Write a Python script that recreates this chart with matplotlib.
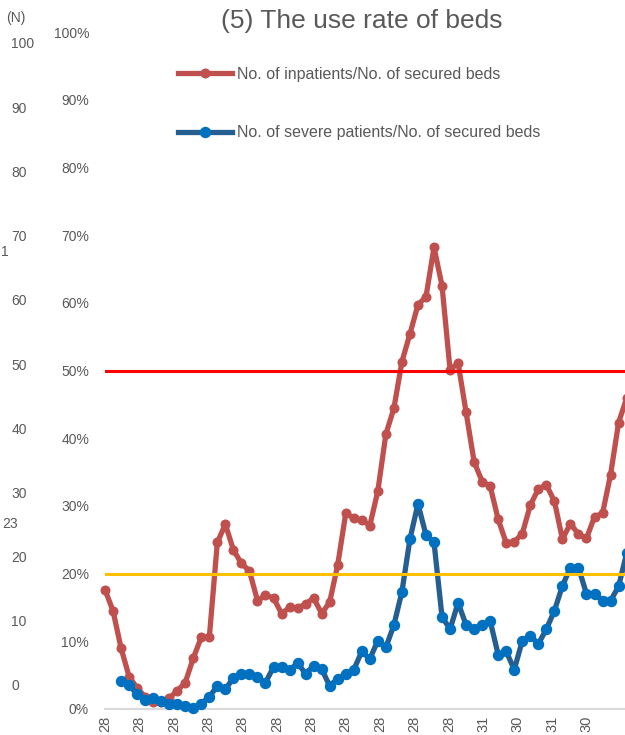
import numpy as np
import matplotlib
matplotlib.use("Agg")
import matplotlib.pyplot as plt
from matplotlib.ticker import PercentFormatter
from matplotlib.lines import Line2D

plt.rcParams['font.family'] = ['Liberation Sans', 'DejaVu Sans']

# ---- data (percent) ----
inpatients = [17.6, 14.5, 9.0, 4.8, 3.1, 1.8, 1.1, 1.1,
              1.6, 2.7, 3.9, 7.5, 10.6, 10.6, 24.6, 27.3,
              23.5, 21.5, 20.4, 16.0, 16.8, 16.4, 14.1, 15.0,
              14.9, 15.5, 16.4, 14.1, 15.8, 21.3, 28.9, 28.2,
              27.9, 27.1, 32.2, 40.6, 44.4, 51.3, 55.4, 59.7,
              60.9, 68.2, 62.5, 50.1, 51.1, 43.8, 36.5, 33.6,
              32.9, 28.0, 24.5, 24.7, 25.9, 30.1, 32.5, 33.1,
              30.7, 25.1, 27.4, 25.8, 25.2, 28.4, 28.9, 34.6,
              42.3, 45.9]
severe = [np.nan, np.nan, 4.2, 3.5, 2.2, 1.4, 1.6, 1.2, 0.7, 0.8,
          0.5, 0.1, 0.8, 1.8, 3.4, 2.9, 4.6, 5.2,
          5.2, 4.7, 3.9, 6.2, 6.2, 5.7, 6.8, 5.2,
          6.4, 5.9, 3.4, 4.5, 5.2, 5.8, 8.5, 7.4,
          10.1, 9.1, 12.4, 17.3, 25.1, 30.3, 25.7, 24.6,
          13.6, 11.8, 15.7, 12.4, 11.8, 12.4, 13.0, 8.0,
          8.5, 5.8, 10.1, 10.8, 9.6, 11.8, 14.5, 18.2,
          20.9, 20.9, 17.0, 17.0, 16.0, 16.0, 18.1, 23.0]
x_labels = ["28"] * 11 + ["31", "30", "31", "30"]
threshold_high = 50
threshold_low = 20
left_axis_values = list(range(0, 101, 10))

series_names = ["No. of inpatients/No. of secured beds",
                "No. of severe patients/No. of secured beds"]
title = "(5) The use rate of beds"

GRAY = "#595959"
RED = "#C0504D"
BLUE_LINE = "#255E91"
BLUE_MARK = "#0070C0"

W, H = 625, 735
fig = plt.figure(figsize=(W / 100, H / 100), dpi=100)

days = np.arange(len(inpatients)) * 7
tick_days = np.arange(len(x_labels)) * 30

px_per_day = 1.1464
xmax = 480
ax_left = 105 / W
ax = fig.add_axes([ax_left, (H - 709) / H, xmax * px_per_day / W, 677 / H])

ax.axhline(threshold_high / 100, color="#FF0000", lw=2.2, zorder=5)
ax.axhline(threshold_low / 100, color="#FFC000", lw=2.2, zorder=5)

ax.plot(days, np.array(inpatients) / 100, color=RED, lw=3.8, marker="o",
        markersize=6.2, markerfacecolor=RED, markeredgecolor=RED,
        clip_on=False, zorder=3)
ax.plot(days, np.array(severe) / 100, color=BLUE_LINE, lw=3.8, marker="o",
        markersize=7.2, markerfacecolor=BLUE_MARK, markeredgecolor=BLUE_MARK,
        clip_on=False, zorder=4)

ax.set_xlim(0, xmax)
ax.set_ylim(0, 1.0)
ax.set_yticks(np.arange(0, 1.01, 0.1))
ax.yaxis.set_major_formatter(PercentFormatter(1.0, decimals=0))
ax.set_xticks(tick_days)
ax.set_xticklabels(x_labels, rotation=90)
ax.tick_params(axis="y", length=0, pad=11.5, labelsize=10, labelcolor=GRAY)
ax.tick_params(axis="x", length=0, pad=4.5, labelsize=10.5, labelcolor=GRAY)
for s in ["top", "right", "left"]:
    ax.spines[s].set_visible(False)
ax.spines["bottom"].set_color("#D9D9D9")
ax.spines["bottom"].set_linewidth(1.5)

# title
fig.text(362 / W, 1 - 21 / H, title, ha="center", va="center",
         fontsize=19, color=GRAY)

# legend
handles = [
    Line2D([], [], color=RED, lw=3.8, marker="o", markersize=6.2,
           markerfacecolor=RED, markeredgecolor=RED),
    Line2D([], [], color=BLUE_LINE, lw=3.8, marker="o", markersize=7.2,
           markerfacecolor=BLUE_MARK, markeredgecolor=BLUE_MARK),
]
fig.legend(handles, series_names, loc="upper left",
           bbox_to_anchor=(178 / W, 1 - 67 / H), frameon=False,
           borderpad=0, borderaxespad=0, handlelength=3.4,
           handletextpad=0.3, labelspacing=2.72, numpoints=1,
           prop={"size": 11.5}, labelcolor=GRAY)

# left (N) axis of the neighbouring chart
ax_n = fig.add_axes([11 / W, (H - 685) / H, 0.0005, 642 / H])
ax_n.set_ylim(0, 100)
ax_n.set_yticks(left_axis_values)
ax_n.yaxis.tick_right()
ax_n.tick_params(axis="y", length=0, pad=0, labelsize=10, labelcolor=GRAY)
ax_n.set_xticks([])
for s in ax_n.spines.values():
    s.set_visible(False)
ax_n.patch.set_visible(False)
fig.text(6 / W, 1 - 18 / H, "(N)", ha="left", va="center", fontsize=10, color=GRAY)
fig.text(1 / W, 1 - 252 / H, "1", ha="left", va="center", fontsize=10, color=GRAY)
fig.text(2 / W, 1 - 524 / H, "23", ha="left", va="center", fontsize=10, color=GRAY)

fig.savefig("out.png", dpi=100)
